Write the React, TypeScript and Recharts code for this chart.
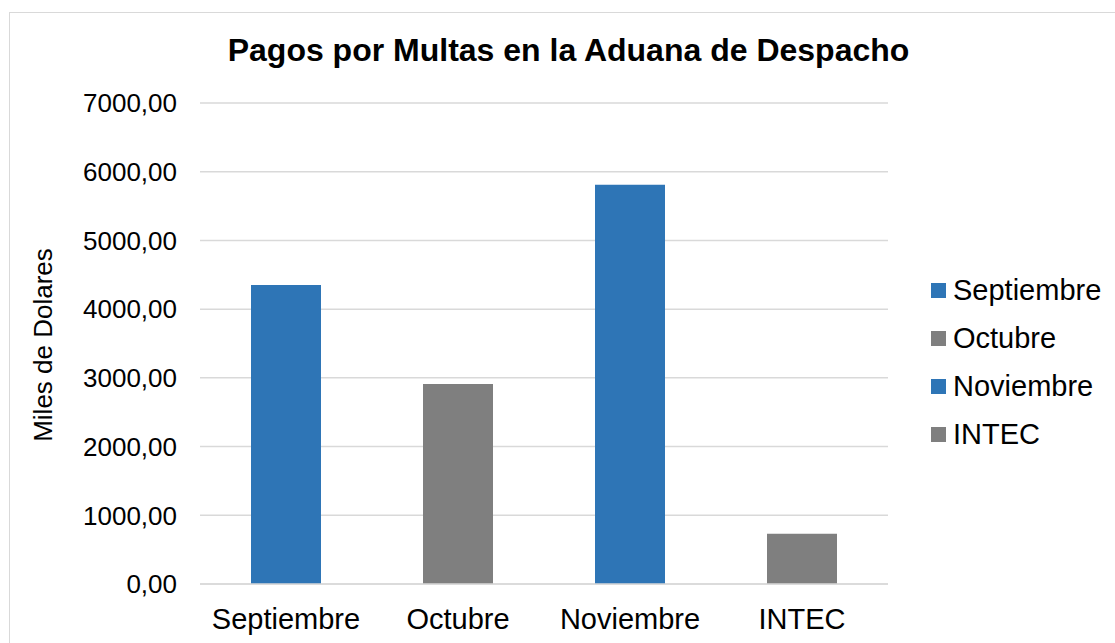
import React from 'react';
import { BarChart, Bar, XAxis, YAxis, CartesianGrid, Legend, Cell } from 'recharts';

const categories = ['Septiembre', 'Octubre', 'Noviembre', 'INTEC'];
const pagos = [4350, 2910, 5810, 730];
const yTicks = [0, 1000, 2000, 3000, 4000, 5000, 6000, 7000];

const title = 'Pagos por Multas en la Aduana de Despacho';
const yLabel = 'Miles de Dolares';

const BLUE = '#2E75B6';
const GRAY = '#7F7F7F';
const barColors = [BLUE, GRAY, BLUE, GRAY];

const FONT = '"Liberation Sans", Arial, sans-serif';

const data = categories.map((name, i) => ({ name, value: pagos[i] }));

const formatTick = (v: number) => v.toFixed(2).replace('.', ',');

const renderLegend = () => (
  <div style={{ fontFamily: FONT, fontSize: 29, color: '#000' }}>
    {categories.map((c, i) => (
      <div key={c} style={{ display: 'flex', alignItems: 'center', height: 48 }}>
        <span style={{ width: 15, height: 15, background: barColors[i], marginRight: 7, display: 'inline-block' }} />
        <span>{c}</span>
      </div>
    ))}
  </div>
);

export default function App() {
  return (
    <div style={{ position: 'absolute', left: 0, top: 0, width: 1115, height: 643, overflow: 'hidden', background: '#fff' }}>
      <div style={{ position: 'absolute', left: 9, top: 12, width: 1200, height: 800, border: '1.5px solid #d9d9d9' }} />
      <div
        style={{
          position: 'absolute', left: 0, top: 32, width: 1137, textAlign: 'center',
          fontFamily: FONT, fontWeight: 'bold', fontSize: 32, lineHeight: '36px', color: '#000',
        }}
      >
        {title}
      </div>
      <div
        style={{
          position: 'absolute', left: 43 - 150, top: 345 - 15, width: 300, height: 30, lineHeight: '30px',
          textAlign: 'center', transform: 'rotate(-90deg)', fontFamily: FONT, fontSize: 26, color: '#000',
        }}
      >
        {yLabel}
      </div>
      <div style={{ position: 'absolute', left: 0, top: 0 }}>
        <BarChart width={1115} height={643} data={data} margin={{ top: 103, right: 227, bottom: 9, left: 0 }}>
          <CartesianGrid vertical={false} stroke="#d9d9d9" strokeWidth={1.5} />
          <XAxis
            dataKey="name"
            height={50}
            tickLine={false}
            tickSize={0}
            tickMargin={24}
            axisLine={{ stroke: '#d9d9d9', strokeWidth: 1.5 }}
            tick={{ fill: '#000', fontSize: 29, fontFamily: FONT }}
          />
          <YAxis
            width={200}
            domain={[0, 7000]}
            ticks={yTicks}
            tickFormatter={formatTick}
            axisLine={false}
            tickLine={false}
            tickSize={0}
            tickMargin={23}
            tick={{ fill: '#000', fontSize: 26, fontFamily: FONT }}
          />
          <Legend
            layout="vertical"
            align="center"
            verticalAlign="middle"
            wrapperStyle={{ left: 931, top: 266, width: 180 }}
            content={renderLegend}
          />
          <Bar dataKey="value" barSize={70} isAnimationActive={false}>
            {data.map((d, i) => (
              <Cell key={d.name} fill={barColors[i]} />
            ))}
          </Bar>
        </BarChart>
      </div>
    </div>
  );
}
